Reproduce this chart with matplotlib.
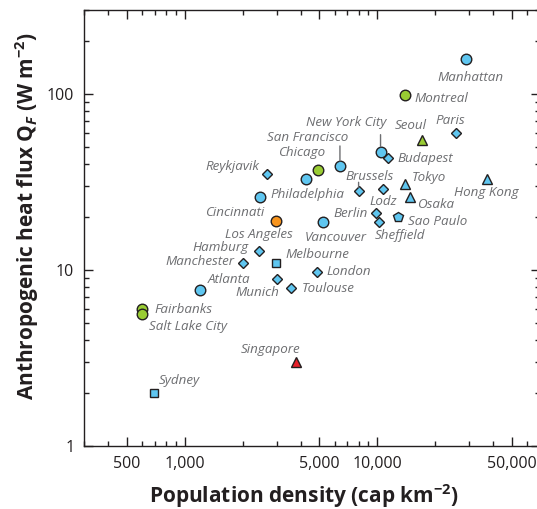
import matplotlib
matplotlib.use("Agg")
import matplotlib.pyplot as plt
from matplotlib.ticker import FixedLocator, FuncFormatter, NullFormatter

plt.rcParams['font.family'] = ['Open Sans', 'DejaVu Sans']
plt.rcParams['mathtext.fontset'] = 'custom'
plt.rcParams['mathtext.rm'] = 'Open Sans:bold'
plt.rcParams['mathtext.it'] = 'Open Sans:italic:bold'
plt.rcParams['mathtext.bf'] = 'Open Sans:bold'

# data
cities = ["Manhattan", "Montreal", "Seoul", "Paris", "New York City", "Budapest",
          "San Francisco", "Chicago", "Philadelphia", "Reykjavik", "Cincinnati",
          "Los Angeles", "Brussels", "Lodz", "Tokyo", "Hong Kong", "Osaka",
          "Berlin", "Sheffield", "Sao Paulo", "Vancouver", "Hamburg", "Melbourne",
          "Manchester", "Munich", "Toulouse", "London", "Atlanta", "Fairbanks",
          "Salt Lake City", "Singapore", "Sydney"]
density = [29000, 14000, 17000, 25500, 10400, 11400, 6400, 4900, 4250, 2660, 2470,
           2970, 8000, 10700, 13900, 37000, 14750, 9900, 10200, 12800, 5250, 2430,
           2980, 2000, 3000, 3580, 4870, 1200, 600, 600, 3770, 690]
flux = [158, 99, 55, 60, 47, 43, 39, 37, 33, 35, 26, 19, 28, 29, 31, 33, 26, 21,
        18.8, 20, 18.8, 12.9, 10.9, 10.9, 8.9, 7.9, 9.8, 7.7, 6.0, 5.6, 3.0, 2.0]
shape = ["circle", "circle", "triangle", "diamond", "circle", "diamond", "circle",
         "circle", "circle", "diamond", "circle", "circle", "diamond", "diamond",
         "triangle", "triangle", "triangle", "diamond", "diamond", "pentagon",
         "circle", "diamond", "square", "diamond", "diamond", "diamond", "diamond",
         "circle", "circle", "circle", "triangle", "square"]
group = ["blue", "green", "green", "blue", "blue", "blue", "blue", "green", "blue",
         "blue", "blue", "orange", "blue", "blue", "blue", "blue", "blue", "blue",
         "blue", "blue", "blue", "blue", "blue", "blue", "blue", "blue", "blue",
         "blue", "green", "green", "red", "blue"]

xticks_major = [500, 1000, 5000, 10000, 50000]
yticks_major = [1, 10, 100]

# styles
marker_of = {"circle": ("o", 7.6), "diamond": ("D", 5.3), "triangle": ("^", 6.6),
             "square": ("s", 5.2), "pentagon": ("p", 7.8)}
color_of = {"blue": "#5fc6f0", "green": "#99cc33", "orange": "#f7941d", "red": "#e8202a"}
ink = "#231f20"
grey = "#6d6e71"

# label offsets in pixels (dx, dy, ha)
offsets = {
    "Manhattan": (4, -18, "center"), "Montreal": (9, -4, "left"),
    "Seoul": (-11, 14, "center"), "Paris": (-5, 13, "center"),
    "New York City": (6, 29, "right"), "Budapest": (9, 0, "left"),
    "San Francisco": (8, 28, "right"), "Chicago": (8, 17, "right"),
    "Philadelphia": (2, -16, "center"), "Reykjavik": (-7, 8, "right"),
    "Cincinnati": (4, -16, "right"), "Los Angeles": (17, -14, "right"),
    "Brussels": (11, 15, "center"), "Lodz": (0, -13, "center"),
    "Tokyo": (7, 6, "left"), "Hong Kong": (0, -14, "center"),
    "Osaka": (7, -8, "left"), "Berlin": (-9, 0, "right"),
    "Sheffield": (-4, -14, "left"), "Sao Paulo": (10, -4, "left"),
    "Vancouver": (12, -16, "center"), "Hamburg": (-10, 3, "right"),
    "Melbourne": (9, 9, "left"), "Manchester": (-8, 2, "right"),
    "Munich": (3, -14, "right"), "Toulouse": (10, 0, "left"),
    "London": (9, 0, "left"), "Atlanta": (8, 10, "left"),
    "Fairbanks": (12, 0, "left"), "Salt Lake City": (7, -12, "left"),
    "Singapore": (5, 13, "right"), "Sydney": (5, 13, "left"),
}
# leader lines: (bottom, top) in pixels above the marker
leaders = {"New York City": (5, 17), "San Francisco": (5, 20), "Brussels": (4, 9)}

fig = plt.figure(figsize=(5.37, 5.09), dpi=100)
ax = fig.add_axes([84 / 537, 63 / 509, 456 / 537, 436 / 509])
ax.set_xscale('log')
ax.set_yscale('log')
ax.set_xlim(300, 70000)
ax.set_ylim(1, 300)

for i, name in enumerate(cities):
    m, ms = marker_of[shape[i]]
    ax.plot(density[i], flux[i], linestyle='none', marker=m, ms=ms,
            mfc=color_of[group[i]], mec=ink, mew=1.0, zorder=3, clip_on=False)
    dx, dy, ha = offsets[name]
    ax.annotate(name, (density[i], flux[i]), xytext=(dx, dy), textcoords='offset pixels',
                ha=ha, va='center', fontsize=9.6, style='italic', color=grey)
    if name in leaders:
        lo, hi = leaders[name]
        ax.annotate("", (density[i], flux[i]), xytext=(0, hi), textcoords='offset pixels',
                    arrowprops=dict(arrowstyle='-', color=grey, lw=1.0,
                                    shrinkA=0, shrinkB=lo * 0.72))

# ticks
xminor = [m * d for d in [100, 1000, 10000] for m in range(2, 10)]
xminor = [v for v in xminor if v not in xticks_major and 300 <= v <= 70000]
yminor = [m * d for d in [1, 10, 100] for m in range(2, 10)]
yminor = [v for v in yminor if v <= 300]
ax.xaxis.set_major_locator(FixedLocator(xticks_major))
ax.xaxis.set_minor_locator(FixedLocator(xminor))
ax.yaxis.set_major_locator(FixedLocator(yticks_major))
ax.yaxis.set_minor_locator(FixedLocator(yminor))
ax.xaxis.set_major_formatter(FuncFormatter(lambda v, p: f"{int(v):,}"))
ax.yaxis.set_major_formatter(FuncFormatter(lambda v, p: f"{int(v)}"))
ax.xaxis.set_minor_formatter(NullFormatter())
ax.yaxis.set_minor_formatter(NullFormatter())
ax.tick_params(which='both', direction='in', top=True, right=True, color=ink,
               width=1.0, labelsize=11.5, labelcolor=ink)
ax.tick_params(which='major', length=6.5, pad=7)
ax.tick_params(which='minor', length=3.6)
for s in ax.spines.values():
    s.set_color(ink)
    s.set_linewidth(1.0)

fig.text(304 / 537, 1 - 496 / 509, "Population density (cap km$^{-2}$)",
         ha='center', va='center', fontsize=15, fontweight='bold', color=ink)
fig.text(27 / 537, 1 - 216 / 509, "Anthropogenic heat flux Q$_{F}$ (W m$^{-2}$)",
         ha='center', va='center', rotation=90, fontsize=15, fontweight='bold', color=ink)

fig.savefig("out.png", dpi=100)
